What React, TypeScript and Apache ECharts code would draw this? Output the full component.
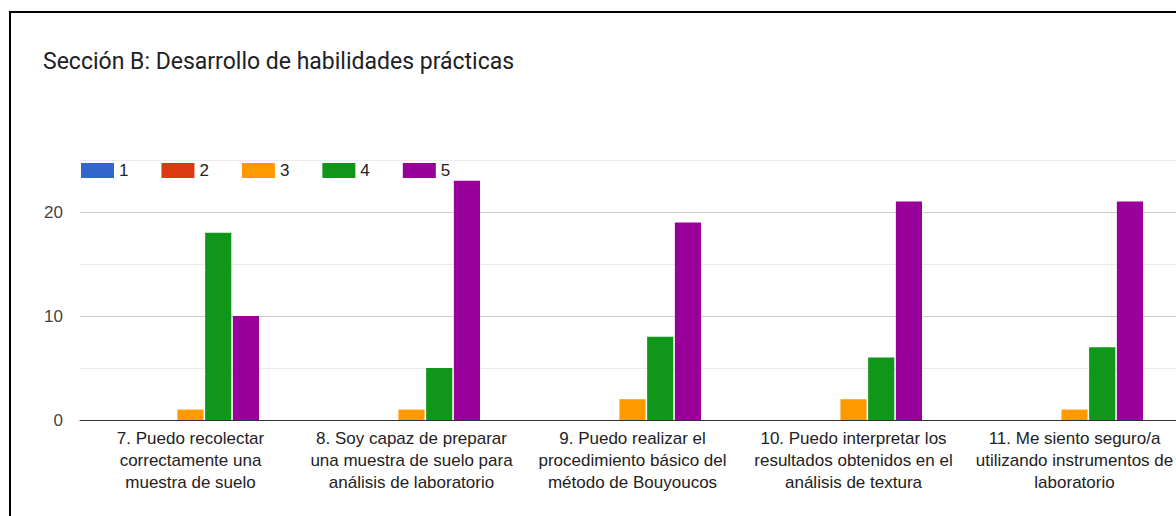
import React, { useEffect, useRef } from "react";
import * as echarts from "echarts";

const titleText = "Sección B: Desarrollo de habilidades prácticas";
const categories = [
  "7. Puedo recolectar\ncorrectamente una\nmuestra de suelo",
  "8. Soy capaz de preparar\nuna muestra de suelo para\nanálisis de laboratorio",
  "9. Puedo realizar el\nprocedimiento básico del\nmétodo de Bouyoucos",
  "10. Puedo interpretar los\nresultados obtenidos en el\nanálisis de textura",
  "11. Me siento seguro/a\nutilizando instrumentos de\nlaboratorio",
];
const seriesNames = ["1", "2", "3", "4", "5"];
const values1 = [0, 0, 0, 0, 0];
const values2 = [0, 0, 0, 0, 0];
const values3 = [1, 1, 2, 2, 1];
const values4 = [18, 5, 8, 6, 7];
const values5 = [10, 23, 19, 21, 21];
const colors = ["#3366cc", "#dc3912", "#ff9900", "#109618", "#990099"];

const ARIAL = 'Arial, "Liberation Sans", sans-serif';

export default function App() {
  const ref = useRef<HTMLDivElement>(null);
  useEffect(() => {
    if (!ref.current) return;
    const chart = echarts.init(ref.current, undefined, { renderer: "svg" });
    const allValues = [values1, values2, values3, values4, values5];
    chart.setOption({
      animation: false,
      backgroundColor: "#ffffff",
      color: colors,
      title: {
        text: titleText,
        left: 38,
        top: 45,
        textStyle: {
          fontFamily: "Roboto, sans-serif",
          fontSize: 23,
          fontWeight: "normal",
          color: "#202124",
        },
      },
      legend: {
        left: 76,
        top: 157,
        itemWidth: 33,
        itemHeight: 15,
        itemGap: 33,
        icon: "rect",
        textStyle: { fontFamily: ARIAL, fontSize: 17, color: "#222" },
        data: seriesNames,
      },
      grid: { left: 80, right: 15, top: 160, bottom: 96, containLabel: false },
      xAxis: {
        type: "category",
        data: categories,
        axisTick: { show: false },
        axisLine: { lineStyle: { color: "#333", width: 1 } },
        axisLabel: {
          interval: 0,
          fontFamily: ARIAL,
          fontSize: 17,
          lineHeight: 22,
          color: "#222",
          margin: 7,
        },
      },
      yAxis: {
        type: "value",
        min: 0,
        max: 25,
        interval: 5,
        axisLine: { show: false },
        axisTick: { show: false },
        axisLabel: {
          fontFamily: ARIAL,
          fontSize: 17,
          color: "#444",
          margin: 17,
          formatter: (v: number) => (v % 10 === 0 ? String(v) : ""),
        },
        splitLine: { lineStyle: { color: ["#cccccc", "#ebebeb"], width: 1 } },
      },
      graphic: [
        {
          type: "rect",
          shape: { x: 10, y: 12, width: 1400, height: 700 },
          style: { fill: "none", stroke: "#000", lineWidth: 2 },
          z: 100,
        },
      ],
      series: seriesNames.map((name, i) => ({
        name,
        type: "bar",
        data: allValues[i],
        barCategoryGap: "38%",
        barGap: "6%",
        itemStyle: { color: colors[i] },
      })),
    });
    return () => chart.dispose();
  }, []);
  return (
    <div
      style={{
        position: "fixed",
        left: 0,
        top: 0,
        width: 1176,
        height: 516,
        overflow: "hidden",
        background: "#fff",
      }}
    >
      <div ref={ref} style={{ width: 1200, height: 516 }} />
    </div>
  );
}
